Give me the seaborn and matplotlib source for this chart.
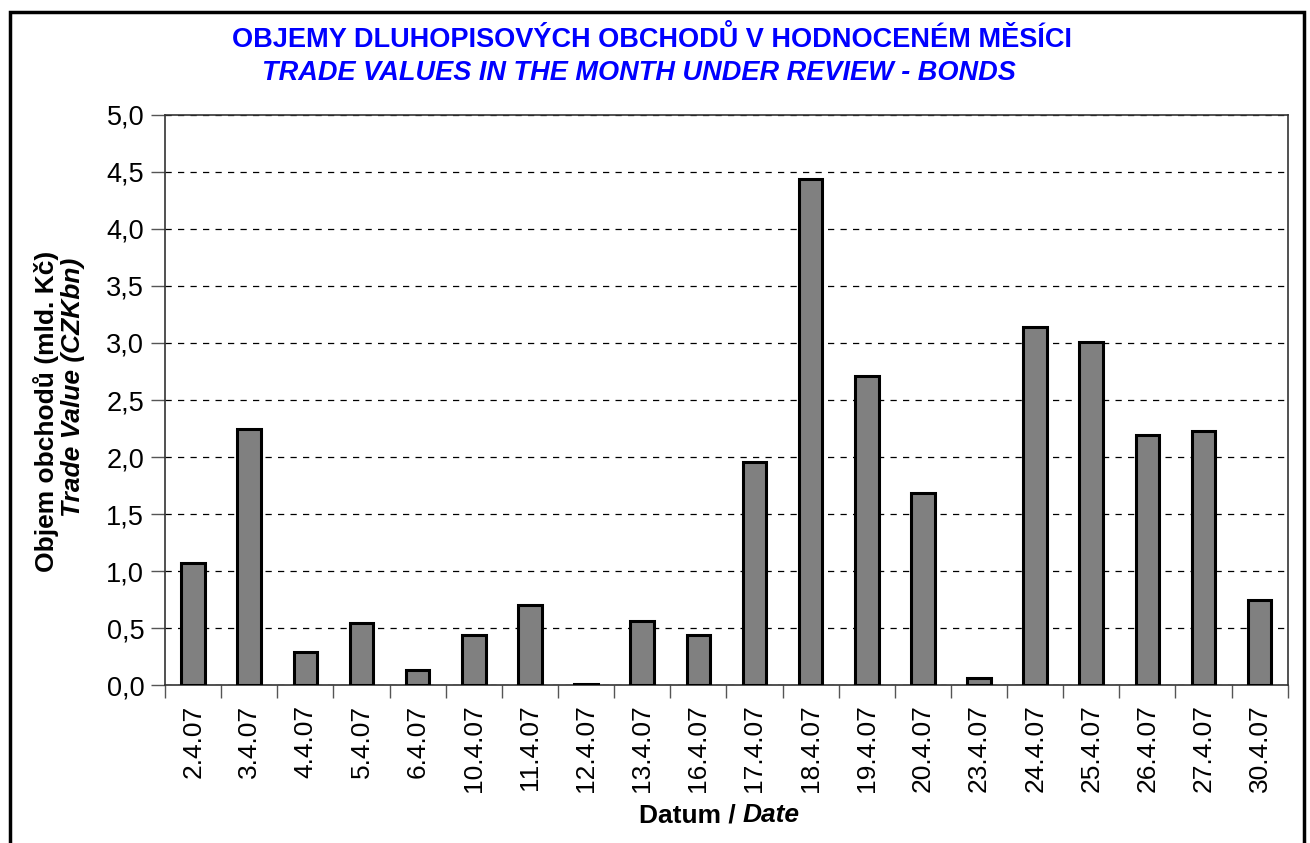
import pandas as pd
import numpy as np
import matplotlib.pyplot as plt
import seaborn as sns
from matplotlib.patches import Rectangle
from matplotlib.ticker import MultipleLocator, FuncFormatter

# data
dates = ['2.4.07', '3.4.07', '4.4.07', '5.4.07', '6.4.07', '10.4.07', '11.4.07',
         '12.4.07', '13.4.07', '16.4.07', '17.4.07', '18.4.07', '19.4.07', '20.4.07',
         '23.4.07', '24.4.07', '25.4.07', '26.4.07', '27.4.07', '30.4.07']
values = [1.07, 2.25, 0.29, 0.54, 0.13, 0.44, 0.70,
          0.01, 0.56, 0.44, 1.96, 4.44, 2.71, 1.68,
          0.06, 3.14, 3.01, 2.19, 2.23, 0.75]

df = pd.DataFrame({'Datum': dates, 'Objem': values})

sns.set_style('white')
plt.rcParams['font.family'] = ['Liberation Sans', 'DejaVu Sans']
plt.rcParams['text.color'] = 'black'
plt.rcParams['xtick.labelcolor'] = 'black'
plt.rcParams['ytick.labelcolor'] = 'black'

fig = plt.figure(figsize=(13.1, 8.43), dpi=100)
ax = fig.add_axes([0.126, 0.1874, 0.857, 0.6762])

sns.barplot(data=df, x='Datum', y='Objem', color='#808080', saturation=1,
            width=0.42, edgecolor='black', linewidth=2.2, ax=ax, zorder=3)

ax.set_ylim(0, 5)
ax.set_xlim(-0.5, len(dates) - 0.5)
ax.yaxis.set_major_locator(MultipleLocator(0.5))
ax.yaxis.set_major_formatter(FuncFormatter(lambda v, p: f'{v:.1f}'.replace('.', ',')))
ax.grid(axis='y', color='black', linestyle=(0, (5, 5)), linewidth=0.9, zorder=0)
ax.set_axisbelow(True)

# category boundary ticks on x, labels in the middle
ax.set_xticks(np.arange(len(dates)))
ax.set_xticklabels(dates, rotation=90, fontsize=19)
ax.set_xticks(np.arange(len(dates) + 1) - 0.5, minor=True)
ax.tick_params(axis='x', which='major', length=0, pad=14, labelcolor='black')
ax.tick_params(axis='x', which='minor', length=9, width=1, color='#555555', direction='out', bottom=True)
ax.tick_params(axis='y', length=10, width=1, color='#555555', direction='out', left=True,
               labelsize=19.5, pad=5, labelcolor='black')

for s in ax.spines.values():
    s.set_color('#333333')
    s.set_linewidth(1.2)

ax.set_xlabel('')
ax.set_ylabel('')

# titles
fig.text(0.4977, 0.9526, 'OBJEMY DLUHOPISOVÝCH OBCHODŮ V HODNOCENÉM MĚSÍCI',
         ha='center', va='center', color='#0000ff', fontsize=19.5, fontweight='bold')
fig.text(0.4878, 0.913, 'TRADE VALUES IN THE MONTH UNDER REVIEW - BONDS',
         ha='center', va='center', color='#0000ff', fontsize=19.5, fontweight='bold', style='italic')

# axis labels with mixed styles
fig.text(0.035, 0.512, 'Objem obchodů (mld. Kč)', rotation=90, ha='center', va='center',
         fontsize=19, fontweight='bold', color='black')
fig.text(0.0555, 0.54, 'Trade Value (CZKbn)', rotation=90, ha='center', va='center',
         fontsize=19, fontweight='bold', style='italic', color='black')
fig.text(0.567, 0.033, 'Datum / ', ha='right', va='center', fontsize=19, fontweight='bold', color='black')
fig.text(0.567, 0.033, 'Date', ha='left', va='center', fontsize=19, fontweight='bold', style='italic', color='black')

# outer chart frame
fig.patches.append(Rectangle((10 / 1310, -0.05), 1294 / 1310, 1.05 - 12 / 843,
                             transform=fig.transFigure, fill=False,
                             edgecolor='black', linewidth=2.5))

fig.savefig('out.png', dpi=100)
